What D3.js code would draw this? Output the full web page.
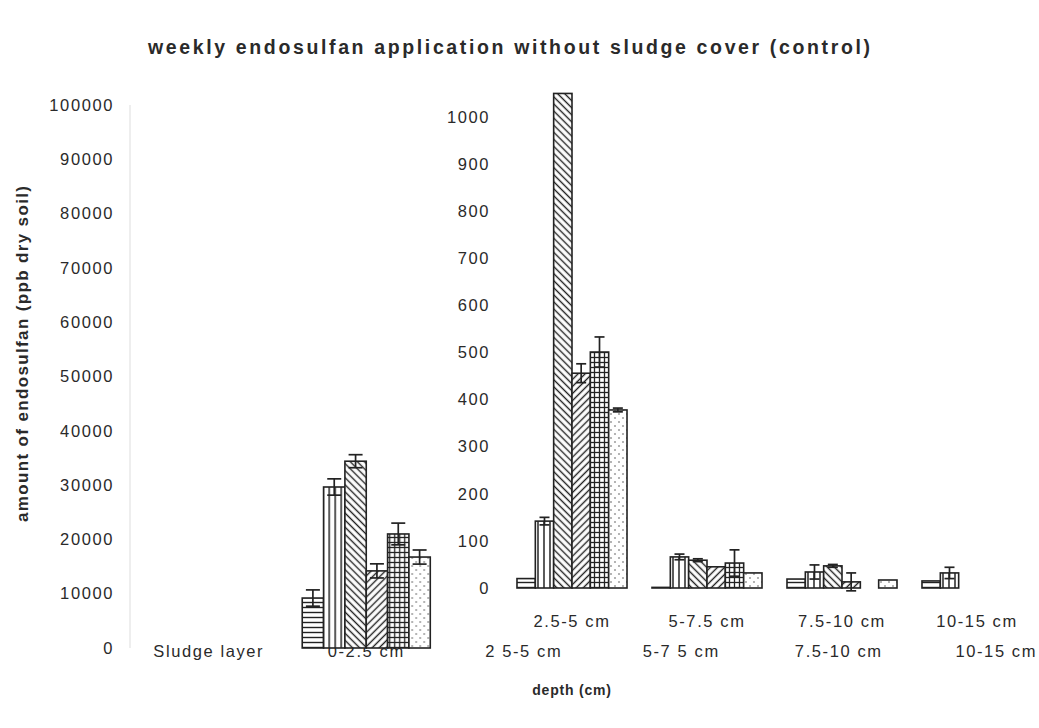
<!DOCTYPE html>
<html>
<head>
<meta charset="utf-8">
<script src="https://cdn.jsdelivr.net/npm/d3@7"></script>
<style>
  body { margin: 0; background: #fff; }
  text { font-family: "Liberation Sans", Arial, sans-serif; fill: #2a2a2a; }
</style>
</head>
<body>
<div id="plot"></div>
<script>
// main chart categories and values (ppb dry soil)
const mainDepths = ["Sludge layer", "0-2.5 cm", "2 5-5 cm", "5-7 5 cm", "7.5-10 cm", "10-15 cm"];
const mainTicks = [0, 10000, 20000, 30000, 40000, 50000, 60000, 70000, 80000, 90000, 100000];
const series = ["s1", "s2", "s3", "s4", "s5", "s6"];
const top025 = [9200, 29650, 34400, 14200, 21000, 16750];
const top025Err = [1500, 1500, 1200, 1300, 2000, 1300];

// inset chart (0 - 1000 scale)
const insetDepths = ["2.5-5 cm", "5-7.5 cm", "7.5-10 cm", "10-15 cm"];
const insetTicks = [0, 100, 200, 300, 400, 500, 600, 700, 800, 900, 1000];
const d25 = [20, 142, 1050, 456, 501, 378];
const d25Err = [0, 8, 0, 20, 32, 4];
const d5 = [0, 66, 59, 45, 53, 32];
const d5Err = [0, 6, 3, 0, 28, 0];
const d75 = [19, 34, 47, 13, null, 17];
const d75Err = [0, 15, 3, 19, null, 0];
const d10 = [15, 32, null, null, null, null];
const d10Err = [0, 12, null, null, null, null];

const W = 1039, H = 728;
const ink = "#222";

const svg = d3.select("#plot").append("svg")
    .attr("width", W)
    .attr("height", H);

// fill patterns, one per series
const defs = svg.append("defs");
function pat(id, size, rot, draw) {
    const p = defs.append("pattern")
        .attr("id", id)
        .attr("patternUnits", "userSpaceOnUse")
        .attr("width", size).attr("height", size);
    if (rot) p.attr("patternTransform", "rotate(" + rot + ")");
    p.append("rect").attr("width", size).attr("height", size).attr("fill", "#fff");
    draw(p, size);
}
pat("s1", 5, 0, (p, s) => p.append("line").attr("x1", 0).attr("x2", s).attr("y1", 2.5).attr("y2", 2.5)
    .attr("stroke", ink).attr("stroke-width", 1.4));
pat("s2", 6, 0, (p, s) => p.append("line").attr("y1", 0).attr("y2", s).attr("x1", 3).attr("x2", 3)
    .attr("stroke", ink).attr("stroke-width", 1.5));
pat("s3", 5, -45, (p, s) => p.append("line").attr("y1", 0).attr("y2", s).attr("x1", 2.5).attr("x2", 2.5)
    .attr("stroke", ink).attr("stroke-width", 1.4));
pat("s4", 5, 45, (p, s) => p.append("line").attr("y1", 0).attr("y2", s).attr("x1", 2.5).attr("x2", 2.5)
    .attr("stroke", ink).attr("stroke-width", 1.4));
pat("s5", 5, 0, (p, s) => {
    p.append("line").attr("x1", 0).attr("x2", s).attr("y1", 2.5).attr("y2", 2.5).attr("stroke", ink).attr("stroke-width", 1.3);
    p.append("line").attr("y1", 0).attr("y2", s).attr("x1", 2.5).attr("x2", 2.5).attr("stroke", ink).attr("stroke-width", 1.3);
});
pat("s6", 8, 0, (p, s) => {
    p.append("circle").attr("cx", 2).attr("cy", 2).attr("r", 0.8).attr("fill", "#555");
    p.append("circle").attr("cx", 6).attr("cy", 6).attr("r", 0.8).attr("fill", "#555");
});

// title
svg.append("text")
    .attr("x", 509).attr("y", 54)
    .attr("text-anchor", "middle")
    .attr("font-size", 19.5).attr("font-weight", "bold")
    .attr("textLength", 722).attr("lengthAdjust", "spacing")
    .text("weekly endosulfan application without sludge cover (control)");

// ---------- main chart ----------
const x0 = d3.scaleBand().domain(mainDepths).range([130, 1075])
    .paddingInner(0.187).paddingOuter(0.0935);
const x1 = d3.scaleBand().domain(series).range([0, x0.bandwidth()]);
const y = d3.scaleLinear().domain([0, 100000]).range([648, 105]);

// faint value axis line
svg.append("line")
    .attr("x1", 130).attr("x2", 130)
    .attr("y1", y(100000)).attr("y2", y(0))
    .attr("stroke", "#ddd").attr("stroke-width", 1);

const yAxis = svg.append("g")
    .attr("transform", "translate(114,0)")
    .call(d3.axisLeft(y).tickValues(mainTicks).tickSize(0).tickPadding(0).tickFormat(d3.format("d")));
yAxis.select(".domain").remove();
yAxis.selectAll("text")
    .attr("font-size", 16.5).style("letter-spacing", "1.6px")
    .attr("font-family", null).attr("fill", null);

svg.append("g").selectAll("text")
    .data(mainDepths)
    .join("text")
    .attr("x", d => x0(d) + x0.bandwidth() / 2)
    .attr("y", 657)
    .attr("text-anchor", "middle")
    .attr("font-size", 16.5).style("letter-spacing", "1.6px")
    .text(d => d);

const mainRows = [{depth: "0-2.5 cm", vals: top025, errs: top025Err}];

function drawGroups(rows, xg, xs, ys, cap) {
    rows.forEach(row => {
        const g = svg.append("g").attr("transform", "translate(" + xg(row.depth) + ",0)");
        const items = series.map((s, i) => ({s: s, v: row.vals[i], e: row.errs[i]}))
            .filter(d => d.v !== null);
        // zero values still show as a flat outline, as in the spreadsheet chart
        g.selectAll("rect")
            .data(items)
            .join("rect")
            .attr("x", d => xs(d.s))
            .attr("width", xs.bandwidth())
            .attr("y", d => Math.min(ys(d.v), ys(0) - 0.6))
            .attr("height", d => Math.max(ys(0) - ys(d.v), 0.6))
            .attr("fill", d => "url(#" + d.s + ")")
            .attr("stroke", ink).attr("stroke-width", 1.6);
        const eb = g.selectAll("g.err")
            .data(items.filter(d => d.e > 0))
            .join("g").attr("class", "err")
            .attr("stroke", ink).attr("stroke-width", 1.7);
        eb.append("line")
            .attr("x1", d => xs(d.s) + xs.bandwidth() / 2)
            .attr("x2", d => xs(d.s) + xs.bandwidth() / 2)
            .attr("y1", d => ys(d.v - d.e)).attr("y2", d => ys(d.v + d.e));
        [1, -1].forEach(k => {
            eb.append("line")
                .attr("x1", d => xs(d.s) + xs.bandwidth() / 2 - cap / 2)
                .attr("x2", d => xs(d.s) + xs.bandwidth() / 2 + cap / 2)
                .attr("y1", d => ys(d.v + k * d.e)).attr("y2", d => ys(d.v + k * d.e));
        });
    });
}
drawGroups(mainRows, x0, x1, y, 14);

// axis titles
svg.append("text")
    .attr("transform", "translate(28,354) rotate(-90)")
    .attr("text-anchor", "middle")
    .attr("font-size", 17).attr("font-weight", "bold")
    .attr("textLength", 336).attr("lengthAdjust", "spacing")
    .text("amount of endosulfan (ppb dry soil)");

svg.append("text")
    .attr("x", 572).attr("y", 695)
    .attr("text-anchor", "middle")
    .attr("font-size", 14).attr("font-weight", "bold")
    .style("letter-spacing", "0.8px")
    .text("depth (cm)");

// ---------- inset chart ----------
const xi0 = d3.scaleBand().domain(insetDepths).range([504.5, 1044.5])
    .paddingInner(0.185).paddingOuter(0.0925);
const xi1 = d3.scaleBand().domain(series).range([0, xi0.bandwidth()]);
const yi = d3.scaleLinear().domain([0, 1000]).range([588, 117]);

const yiAxis = svg.append("g")
    .attr("transform", "translate(490,0)")
    .call(d3.axisLeft(yi).tickValues(insetTicks).tickSize(0).tickPadding(0).tickFormat(d3.format("d")));
yiAxis.select(".domain").remove();
yiAxis.selectAll("text")
    .attr("font-size", 16.5).style("letter-spacing", "1.6px")
    .attr("font-family", null).attr("fill", null);

svg.append("g").selectAll("text")
    .data(insetDepths)
    .join("text")
    .attr("x", d => xi0(d) + xi0.bandwidth() / 2)
    .attr("y", 627)
    .attr("text-anchor", "middle")
    .attr("font-size", 16.5).style("letter-spacing", "1.6px")
    .text(d => d);

const insetRows = [
    {depth: "2.5-5 cm", vals: d25, errs: d25Err},
    {depth: "5-7.5 cm", vals: d5, errs: d5Err},
    {depth: "7.5-10 cm", vals: d75, errs: d75Err},
    {depth: "10-15 cm", vals: d10, errs: d10Err}
];
drawGroups(insetRows, xi0, xi1, yi, 10);
</script>
</body>
</html>
